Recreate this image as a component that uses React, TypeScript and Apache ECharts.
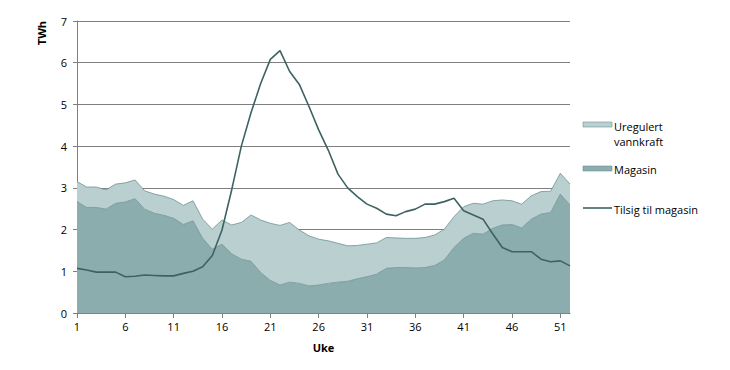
import React, { useEffect, useRef } from "react";
import * as echarts from "echarts";

const weeks: string[] = Array.from({ length: 52 }, (_, i) => String(i + 1));

const totalTop: number[] = [
  3.15, 3.02, 3.02, 2.95, 3.09, 3.12, 3.19, 2.93, 2.85, 2.8,
  2.72, 2.58, 2.69, 2.25, 2.01, 2.23, 2.11, 2.17, 2.35, 2.23,
  2.15, 2.1, 2.17, 1.99, 1.85, 1.77, 1.73, 1.67, 1.61, 1.62,
  1.65, 1.68, 1.81, 1.8, 1.79, 1.79, 1.81, 1.87, 2.01, 2.31,
  2.55, 2.63, 2.61, 2.69, 2.71, 2.69, 2.61, 2.81, 2.91, 2.92,
  3.35, 3.09,
];

const magasin: number[] = [
  2.67, 2.53, 2.53, 2.49, 2.63, 2.66, 2.74, 2.49, 2.39, 2.34,
  2.27, 2.12, 2.21, 1.79, 1.53, 1.65, 1.42, 1.29, 1.24, 0.97,
  0.78, 0.67, 0.74, 0.71, 0.65, 0.67, 0.71, 0.74, 0.76, 0.82,
  0.87, 0.93, 1.07, 1.09, 1.09, 1.08, 1.09, 1.14, 1.27, 1.57,
  1.79, 1.91, 1.89, 2.03, 2.11, 2.12, 2.04, 2.25, 2.37, 2.41,
  2.85, 2.59,
];

const uregulert: number[] = totalTop.map((t, i) => Math.round((t - magasin[i]) * 100) / 100);

const tilsig: number[] = [
  1.07, 1.03, 0.98, 0.98, 0.98, 0.87, 0.88, 0.91, 0.9, 0.89,
  0.89, 0.95, 1.0, 1.11, 1.38, 1.99, 2.95, 4.0, 4.8, 5.5,
  6.08, 6.29, 5.79, 5.48, 4.95, 4.39, 3.9, 3.33, 3.0, 2.79,
  2.61, 2.51, 2.37, 2.33, 2.43, 2.49, 2.61, 2.61, 2.67, 2.75,
  2.45, 2.35, 2.25, 1.9, 1.57, 1.47, 1.47, 1.47, 1.29, 1.23,
  1.25, 1.13,
];

const yTicks = { min: 0, max: 7, interval: 1 };

const LIGHT = "#bacfd0";
const DARK = "#8badae";
const LINE = "#3e6262";
const EDGE = "#6e9293";
const FONT = "'Open Sans', 'DejaVu Sans', sans-serif";

export default function App() {
  const ref = useRef<HTMLDivElement>(null);
  useEffect(() => {
    if (!ref.current) return;
    const chart = echarts.init(ref.current, undefined, { renderer: "svg" });
    chart.setOption({
      animation: false,
      grid: { left: 77, right: 160, top: 21, bottom: 57, containLabel: false },
      xAxis: {
        type: "category",
        data: weeks,
        boundaryGap: false,
        name: "Uke",
        nameLocation: "middle",
        nameGap: 29,
        nameTextStyle: { fontFamily: FONT, fontWeight: "bold", fontSize: 11, color: "#000" },
        axisLine: { lineStyle: { color: "#808080", width: 1 } },
        axisTick: { interval: 4, length: 5, lineStyle: { color: "#808080" } },
        axisLabel: { interval: 4, fontFamily: FONT, fontSize: 11, color: "#000", margin: 8 },
        splitLine: { show: false },
      },
      yAxis: {
        type: "value",
        min: yTicks.min,
        max: yTicks.max,
        interval: yTicks.interval,
        name: "TWh",
        nameLocation: "end",
        nameRotate: 90,
        nameGap: 0,
        nameTextStyle: {
          fontFamily: FONT,
          fontWeight: "bold",
          fontSize: 11,
          color: "#000",
          align: "right",
          verticalAlign: "bottom",
          padding: [0, 0, 30, 0],
        },
        axisLine: { show: true, lineStyle: { color: "#808080", width: 1 } },
        axisTick: { show: true, length: 4, lineStyle: { color: "#808080" } },
        axisLabel: { fontFamily: FONT, fontSize: 11, color: "#000", margin: 10 },
        splitLine: { show: true, lineStyle: { color: "#7f7f7f", width: 1.2 } },
      },
      series: [
        {
          name: "Magasin",
          type: "line",
          stack: "total",
          data: magasin,
          symbol: "none",
          lineStyle: { color: EDGE, width: 0.8 },
          areaStyle: { color: DARK, opacity: 1 },
          itemStyle: { color: DARK },
          z: 2,
        },
        {
          name: "Uregulert vannkraft",
          type: "line",
          stack: "total",
          data: uregulert,
          symbol: "none",
          lineStyle: { color: EDGE, width: 0.8 },
          areaStyle: { color: LIGHT, opacity: 1 },
          itemStyle: { color: LIGHT },
          z: 2,
        },
        {
          name: "Tilsig til magasin",
          type: "line",
          data: tilsig,
          symbol: "none",
          lineStyle: { color: LINE, width: 1.6 },
          itemStyle: { color: LINE },
          z: 3,
        },
      ],
      graphic: [
        { type: "rect", shape: { x: 583, y: 122, width: 29, height: 5 }, style: { fill: LIGHT, stroke: EDGE, lineWidth: 0.6 } },
        { type: "text", x: 614, y: 119, style: { text: "Uregulert\nvannkraft", fontFamily: FONT, fontSize: 11, lineHeight: 15, fill: "#000", verticalAlign: "top" } },
        { type: "rect", shape: { x: 583, y: 166, width: 29, height: 5 }, style: { fill: DARK, stroke: EDGE, lineWidth: 0.6 } },
        { type: "text", x: 614, y: 169, style: { text: "Magasin", fontFamily: FONT, fontSize: 11, fill: "#000", verticalAlign: "middle" } },
        { type: "line", shape: { x1: 583, y1: 208, x2: 612, y2: 208 }, style: { stroke: LINE, lineWidth: 1.6 } },
        { type: "text", x: 614, y: 209, style: { text: "Tilsig til magasin", fontFamily: FONT, fontSize: 11, fill: "#000", verticalAlign: "middle" } },
      ],
    });
    return () => chart.dispose();
  }, []);
  return <div ref={ref} style={{ width: 730, height: 370, margin: -8 }} />;
}
